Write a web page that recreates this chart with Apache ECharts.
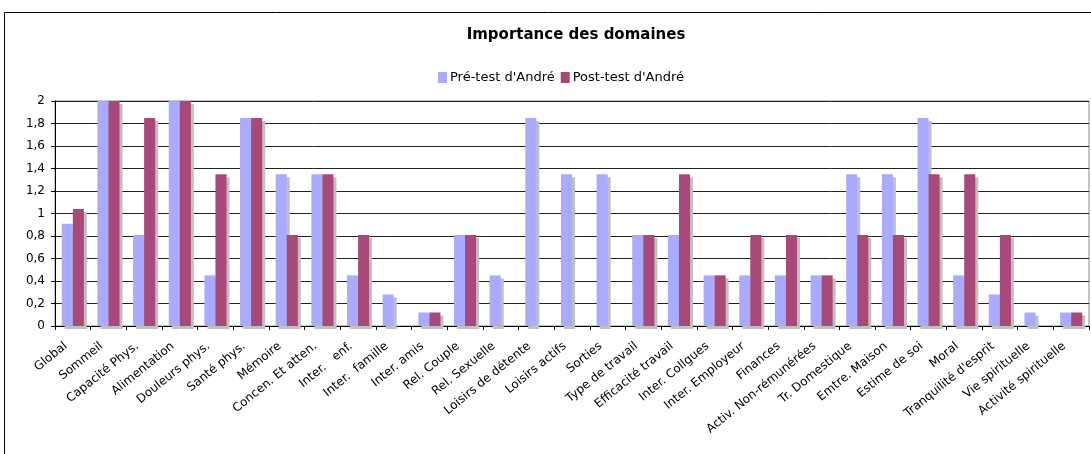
<!DOCTYPE html>
<html>
<head>
<meta charset="utf-8">
<script src="https://cdn.jsdelivr.net/npm/echarts@6/dist/echarts.min.js"></script>
<style>
  html, body { margin: 0; padding: 0; background: #fff; }
  #chart { width: 1091px; height: 454px; }
</style>
</head>
<body>
<div id="chart"></div>
<script>
// domaines (axe des x)
const categories = [
  'Global', 'Sommeil', 'Capacité Phys.', 'Alimentation', 'Douleurs phys.',
  'Santé phys.', 'Mémoire', 'Concen. Et atten.', 'Inter.   enf.', 'Inter.  famille',
  'Inter. amis', 'Rel. Couple', 'Rel. Sexuelle', 'Loisirs de détente', 'Loisirs actifs',
  'Sorties', 'Type de travail', 'Efficacité travail', 'Inter. Collgues', 'Inter. Employeur',
  'Finances', 'Activ. Non-rémunérées', 'Tr. Domestique', 'Emtre. Maison', 'Estime de soi',
  'Moral', "Tranquilité d'esprit", 'Vie spirituelle', 'Activité spirituelle'
]
const preTest = [
  0.91, 2, 0.81, 2, 0.45,
  1.85, 1.35, 1.35, 0.45, 0.28,
  0.12, 0.81, 0.45, 1.85, 1.35,
  1.35, 0.81, 0.81, 0.45, 0.45,
  0.45, 0.45, 1.35, 1.35, 1.85,
  0.45, 0.28, 0.12, 0.12
]
const postTest = [
  1.04, 2, 1.85, 2, 1.35,
  1.85, 0.81, 1.35, 0.81, 0,
  0.12, 0.81, 0, 0, 0,
  0, 0.81, 1.35, 0.45, 0.81,
  0.81, 0.45, 0.81, 0.81, 1.35,
  1.35, 0.81, 0, 0.12
]
const seriesNames = ["Pré-test d'André", "Post-test d'André"]

const font = 'Verdana, "DejaVu Sans", sans-serif'
const shadow = { shadowColor: '#c0c0c0', shadowOffsetX: 3, shadowOffsetY: 3, shadowBlur: 0 }

const myChart = echarts.init(document.getElementById('chart'))

const option = {
  animation: false,
  textStyle: { fontFamily: font },
  graphic: [{
    // cadre du graphique
    type: 'rect',
    left: 2, top: 10,
    shape: { width: 1200, height: 600 },
    style: { fill: 'none', stroke: '#000', lineWidth: 1 },
    silent: true
  }],
  title: {
    text: 'Importance des domaines',
    left: 571, top: 23,
    textAlign: 'center',
    textStyle: { fontFamily: font, fontSize: 15, fontWeight: 'bold', color: '#000' }
  },
  legend: {
    data: seriesNames,
    left: 433,
    top: 66,
    itemWidth: 9,
    itemHeight: 11,
    itemGap: 6,
    icon: 'rect',
    textStyle: { fontFamily: font, fontSize: 13, color: '#000', padding: [0, 0, 0, -2] }
  },
  grid: {
    left: 55,
    right: 2,
    top: 101,
    bottom: 128,
    show: true,
    borderColor: '#888',
    borderWidth: 1
  },
  xAxis: [{
    type: 'category',
    data: categories,
    axisLine: { lineStyle: { color: '#000', width: 1 } },
    axisTick: { show: true, length: 4, lineStyle: { color: '#000' } },
    axisLabel: {
      interval: 0,
      rotate: 39,
      margin: 13,
      padding: [0, 9, 0, 0],
      fontFamily: font,
      fontSize: 12,
      color: '#000'
    }
  }],
  yAxis: [{
    type: 'value',
    min: 0,
    max: 2,
    interval: 0.2,
    axisLine: { show: true, lineStyle: { color: '#000', width: 1 } },
    axisTick: { show: true, length: 4, lineStyle: { color: '#000' } },
    splitLine: { lineStyle: { color: '#222', width: 1 } },
    axisLabel: {
      margin: 10,
      fontFamily: font,
      fontSize: 12,
      color: '#000',
      formatter: function (v) {
        return String(+v.toFixed(1)).replace('.', ',')
      }
    }
  }],
  series: [
    {
      name: seriesNames[0],
      type: 'bar',
      data: preTest,
      barGap: '0%',
      barCategoryGap: '38%',
      itemStyle: Object.assign({ color: '#aaaaff' }, shadow)
    },
    {
      name: seriesNames[1],
      type: 'bar',
      data: postTest,
      barGap: '0%',
      barCategoryGap: '38%',
      itemStyle: Object.assign({ color: '#a8497a' }, shadow)
    }
  ]
}

myChart.setOption(option)
</script>
</body>
</html>
